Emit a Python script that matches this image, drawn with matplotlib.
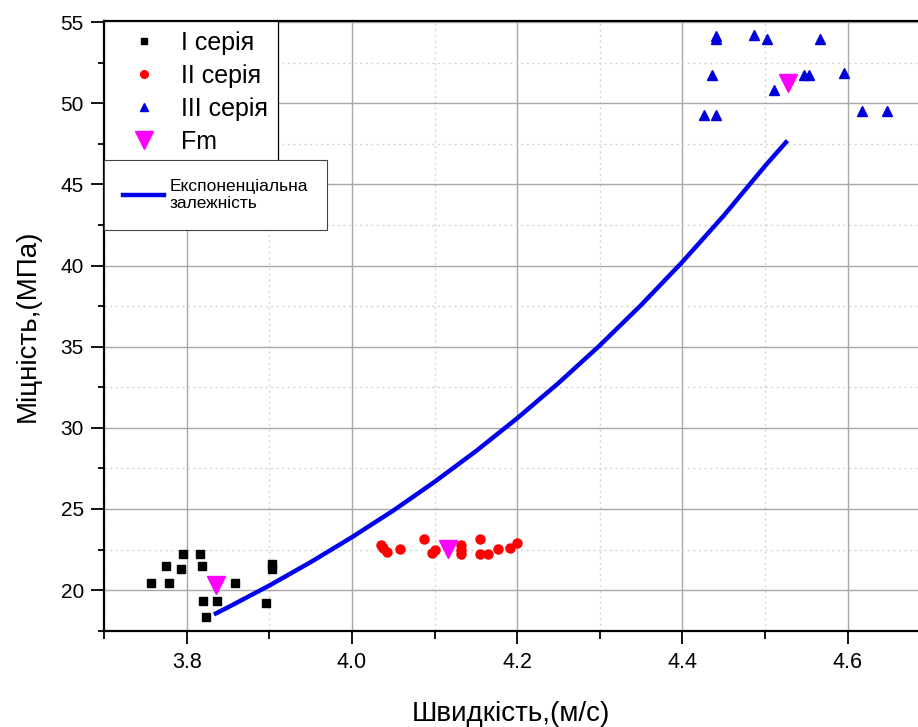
import matplotlib
matplotlib.use("Agg")
import matplotlib.pyplot as plt
from matplotlib.lines import Line2D
from matplotlib.ticker import MultipleLocator

plt.rcParams['font.family'] = ['Liberation Sans', 'DejaVu Sans']

# Series I (black squares)
s1_x = [3.757, 3.779, 3.775, 3.793, 3.796, 3.816, 3.819, 3.858, 3.820, 3.837, 3.823, 3.896, 3.903, 3.903]
s1_y = [20.41, 20.41, 21.50, 21.27, 22.20, 22.20, 21.50, 20.41, 19.32, 19.32, 18.32, 19.18, 21.58, 21.29]
# Series II (red circles)
s2_x = [4.035, 4.038, 4.043, 4.058, 4.087, 4.097, 4.100, 4.132, 4.132, 4.132, 4.155, 4.155, 4.165, 4.177, 4.191, 4.200]
s2_y = [22.77, 22.57, 22.36, 22.51, 23.12, 22.30, 22.46, 22.77, 22.46, 22.20, 23.12, 22.22, 22.20, 22.51, 22.57, 22.88]
# Series III (blue triangles)
s3_x = [4.440, 4.440, 4.487, 4.502, 4.567, 4.436, 4.511, 4.547, 4.553, 4.596, 4.426, 4.440, 4.617, 4.647]
s3_y = [54.13, 53.93, 54.20, 53.93, 53.93, 51.73, 50.81, 51.73, 51.73, 51.84, 49.27, 49.27, 49.53, 49.53]
# Mean values Fm
fm_x = [3.835, 4.116, 4.528]
fm_y = [20.31, 22.51, 51.22]
# Exponential dependence curve
exp_x = [3.833, 3.85, 3.90, 3.95, 4.00, 4.05, 4.10, 4.15, 4.20, 4.25, 4.30, 4.35, 4.40, 4.45, 4.50, 4.527]
exp_y = [18.5, 18.94, 20.28, 21.72, 23.26, 24.90, 26.67, 28.56, 30.59, 32.76, 35.08, 37.57, 40.23, 43.08, 46.14, 47.7]

labels = ["I серія", "II серія", "III серія", "Fm"]
curve_label = "Експоненціальна\nзалежність"

fig = plt.figure(figsize=(9.18, 7.27), dpi=100)
ax = fig.add_axes([0.1133, 0.1325, 0.8867, 0.8393])

ax.set_xlim(3.70, 4.685)
ax.set_ylim(17.5, 55.1)
ax.xaxis.set_major_locator(MultipleLocator(0.2))
ax.xaxis.set_minor_locator(MultipleLocator(0.1))
ax.yaxis.set_major_locator(MultipleLocator(5))
ax.yaxis.set_minor_locator(MultipleLocator(2.5))
ax.set_xticks([3.8, 4.0, 4.2, 4.4, 4.6])
ax.set_xticklabels(["3.8", "4.0", "4.2", "4.4", "4.6"])

ax.grid(which='major', color='#a8a8a8', linewidth=1.0, linestyle='-')
ax.grid(which='minor', color='#d4d4d4', linewidth=1.0, linestyle=(0, (1.5, 2.5)))
ax.set_axisbelow(True)

for sp in ['left', 'bottom', 'top']:
    ax.spines[sp].set_linewidth(1.6)
    ax.spines[sp].set_color('black')
ax.spines['right'].set_visible(False)

ax.tick_params(axis='y', which='major', direction='out', length=9.5, width=1.3, labelsize=15, pad=5)
ax.tick_params(axis='y', which='minor', direction='out', length=4, width=1.3)
ax.tick_params(axis='x', which='major', direction='out', length=9.5, width=1.3, labelsize=15.5, pad=6)
ax.tick_params(axis='x', which='minor', direction='out', length=6, width=1.3)

ax.plot(exp_x, exp_y, color='#0000ee', linewidth=3.2, solid_capstyle='butt', zorder=3)
ax.plot(s1_x, s1_y, linestyle='none', marker='s', markersize=6, color='black', zorder=4)
ax.plot(s2_x, s2_y, linestyle='none', marker='o', markersize=6.5, color='#ff0000', zorder=4)
ax.plot(s3_x, s3_y, linestyle='none', marker='^', markersize=7, color='#0000dd', zorder=4)
ax.plot(fm_x, fm_y, linestyle='none', marker='v', markersize=13, color='#ff00ff', zorder=5)

ax.set_xlabel("Швидкість,(м/с)", fontsize=20, labelpad=20)
ax.set_ylabel("Міцність,(МПа)", fontsize=20, labelpad=14)

h = [Line2D([], [], linestyle='none', marker='s', markersize=5, color='black'),
     Line2D([], [], linestyle='none', marker='o', markersize=5.5, color='#ff0000'),
     Line2D([], [], linestyle='none', marker='^', markersize=6, color='#0000dd'),
     Line2D([], [], linestyle='none', marker='v', markersize=13, color='#ff00ff')]
leg1 = ax.legend(h, labels, loc='upper left', bbox_to_anchor=(0.0, 1.0), fontsize=18,
                 frameon=True, fancybox=False, edgecolor='black', framealpha=1,
                 borderaxespad=0.0, handlelength=2.34, handletextpad=0.3, labelspacing=0.36,
                 borderpad=0.42, markerscale=1.0)
leg1.get_frame().set_linewidth(0.9)
ax.add_artist(leg1)

h2 = [Line2D([], [], color='#0000ee', linewidth=3.2)]
leg2 = ax.legend(h2, [curve_label], loc='upper left', bbox_to_anchor=(0.0, 0.7714), fontsize=12.5,
                 frameon=True, fancybox=False, edgecolor='#444444', framealpha=1,
                 borderaxespad=0.0, handlelength=2.4, handletextpad=0.3, borderpad=1.08)
leg2.get_frame().set_linewidth(0.8)

fig.savefig("out.png", dpi=100)
